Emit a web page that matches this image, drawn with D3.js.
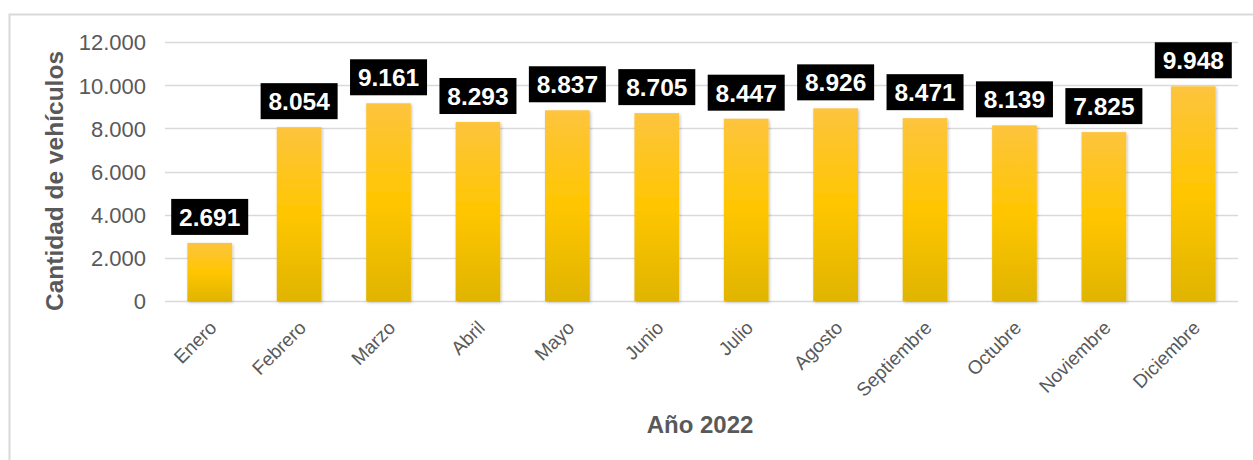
<!DOCTYPE html>
<html>
<head>
<meta charset="utf-8">
<script src="https://cdn.jsdelivr.net/npm/d3@7"></script>
<style>
  body { margin: 0; background: #fff; overflow: hidden; }
  svg { font-family: Arial, "Liberation Sans", sans-serif; display: block; }
</style>
</head>
<body>
<svg id="chart"></svg>
<script>
const months = ["Enero", "Febrero", "Marzo", "Abril", "Mayo", "Junio", "Julio", "Agosto", "Septiembre", "Octubre", "Noviembre", "Diciembre"];
const vehicles = [2691, 8054, 9161, 8293, 8837, 8705, 8447, 8926, 8471, 8139, 7825, 9948];
const yTicks = [0, 2000, 4000, 6000, 8000, 10000, 12000];

const width = 1253, height = 460;
const margin = { top: 42, right: 15, bottom: 159, left: 165 };
const innerWidth = width - margin.left - margin.right; // 1073
const innerHeight = height - margin.top - margin.bottom;

const locale = d3.formatLocale({ decimal: ",", thousands: ".", grouping: [3], currency: ["", ""] });
const fmt = locale.format(",d");

const svg = d3.select("#chart").attr("width", width).attr("height", height);

// chart frame: only the top and left edges are inside the picture
svg.append("path").attr("d", `M9.5,${height} V14.5 H${width}`)
  .attr("fill", "none").attr("stroke", "#d9d9d9").attr("stroke-width", 2);

const defs = svg.append("defs");
const grad = defs.append("linearGradient").attr("id", "barGrad").attr("x1", 0).attr("y1", 0).attr("x2", 0).attr("y2", 1);
grad.append("stop").attr("offset", "0%").attr("stop-color", "#fdc43e");
grad.append("stop").attr("offset", "50%").attr("stop-color", "#ffc600");
grad.append("stop").attr("offset", "100%").attr("stop-color", "#e0b400");
const shadow = defs.append("filter").attr("id", "shadow").attr("x", "-20%").attr("y", "-5%").attr("width", "140%").attr("height", "115%");
shadow.append("feDropShadow").attr("dx", 1).attr("dy", 1.5).attr("stdDeviation", 1.5).attr("flood-color", "#000").attr("flood-opacity", 0.25);

const group = svg.append("g").attr("transform", `translate(${margin.left}, ${margin.top})`);

const x_scale = d3.scaleBand().domain(months).range([0, innerWidth]).paddingInner(0.5).paddingOuter(0.25);
const y_scale = d3.scaleLinear().domain([0, 12000]).range([innerHeight, 0]);

// gridlines
group.selectAll(".grid").data(yTicks).join("line").attr("class", "grid")
  .attr("x1", 0).attr("x2", innerWidth)
  .attr("y1", d => Math.round(y_scale(d)) + 0.5).attr("y2", d => Math.round(y_scale(d)) + 0.5)
  .attr("stroke", "#d9d9d9").attr("stroke-width", 1.5);

// y axis
const yAxis = group.append("g").call(d3.axisLeft(y_scale).tickValues(yTicks).tickFormat(fmt).tickSize(0).tickPadding(19));
yAxis.select(".domain").remove();
yAxis.selectAll("text").attr("fill", "#595959").attr("font-size", 22).attr("dy", "0.36em");

// x axis
const xAxis = group.append("g").attr("transform", `translate(0, ${innerHeight})`)
  .call(d3.axisBottom(x_scale).tickSize(0).tickPadding(0));
xAxis.select(".domain").remove();
xAxis.selectAll("text").attr("fill", "#595959").attr("font-size", 19)
  .attr("text-anchor", "end").attr("dy", 0)
  .attr("transform", "translate(8, 28) rotate(-45)");

// bars
group.selectAll(".bar").data(vehicles).join("rect").attr("class", "bar")
  .attr("x", (d, i) => x_scale(months[i]))
  .attr("y", d => y_scale(d))
  .attr("width", x_scale.bandwidth())
  .attr("height", d => innerHeight - y_scale(d))
  .attr("fill", "url(#barGrad)")
  .attr("filter", "url(#shadow)");

// value labels
const labels = group.selectAll(".lbl").data(vehicles).join("g").attr("class", "lbl")
  .attr("transform", (d, i) => `translate(${x_scale(months[i]) + x_scale.bandwidth() / 2}, ${y_scale(d) - 8})`);
labels.append("rect").attr("x", -38.5).attr("y", -36).attr("width", 77).attr("height", 36).attr("fill", "#000");
labels.append("text").attr("x", 0).attr("y", -9).attr("text-anchor", "middle")
  .attr("fill", "#fff").attr("font-size", 24.5).attr("font-weight", "bold").text(d => fmt(d));

// axis titles
svg.append("text").attr("transform", `translate(63, 181) rotate(-90)`)
  .attr("text-anchor", "middle").attr("fill", "#595959").attr("font-size", 24.5).attr("font-weight", "bold")
  .text("Cantidad de vehículos");
svg.append("text").attr("x", 700).attr("y", 433)
  .attr("text-anchor", "middle").attr("fill", "#595959").attr("font-size", 24).attr("font-weight", "bold")
  .text("Año 2022");
</script>
</body>
</html>
